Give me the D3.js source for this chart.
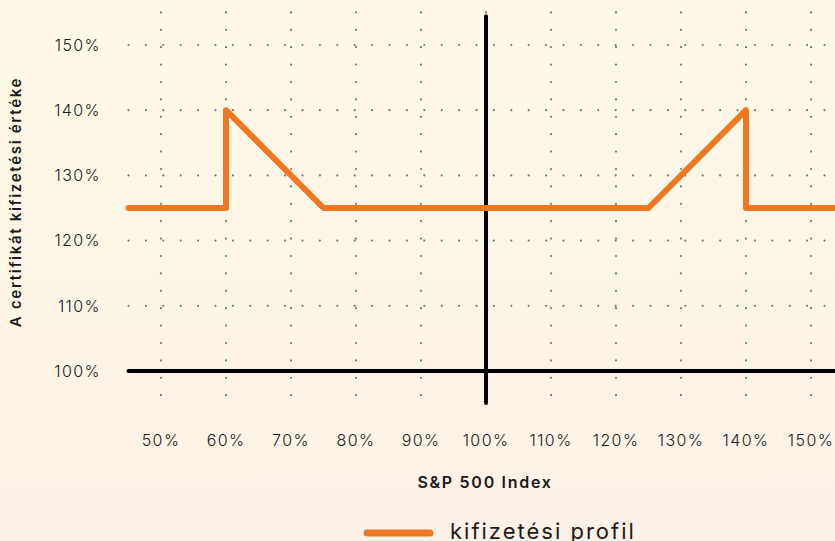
<!DOCTYPE html>
<html>
<head>
<meta charset="utf-8">
<script src="https://cdn.jsdelivr.net/npm/d3@7"></script>
<style>
  html, body { margin: 0; padding: 0; overflow: hidden; }
  body { width: 835px; height: 541px; }
  text { font-family: "Inter", "DejaVu Sans", sans-serif; fill: #1a1a1a; }
</style>
</head>
<body>
<script>
// chart data
var xTicks = [50, 60, 70, 80, 90, 100, 110, 120, 130, 140, 150];
var yTicks = [100, 110, 120, 130, 140, 150];
var payoffX = [45, 60, 60, 75, 125, 140, 140, 155];
var payoffY = [125, 125, 140, 125, 125, 140, 125, 125];
var seriesName = "kifizetési profil";
var xTitle = "S&P 500 Index";
var yTitle = "A certifikát kifizetési értéke";

var width = 835, height = 541;

var svg = d3.select("body").append("svg")
  .attr("width", width)
  .attr("height", height);

// background gradient
var grad = svg.append("defs").append("linearGradient")
  .attr("id", "bg").attr("x1", 0).attr("y1", 0).attr("x2", 0).attr("y2", 1);
grad.append("stop").attr("offset", "0%").attr("stop-color", "#fef9e7");
grad.append("stop").attr("offset", "100%").attr("stop-color", "#fcf1e6");
svg.append("rect").attr("width", width).attr("height", height).attr("fill", "url(#bg)");

var x = d3.scaleLinear().domain([45, 155]).range([128.5, 843.5]);
var y = d3.scaleLinear().domain([95, 155]).range([403.6, 12.4]);

// dotted grid
var grid = svg.append("g")
  .attr("stroke", "#777")
  .attr("stroke-width", 2.2)
  .attr("stroke-linecap", "round")
  .attr("stroke-dasharray", "0 17.4");

grid.selectAll(".vgrid")
  .data(xTicks)
  .enter().append("line")
  .attr("class", "vgrid")
  .attr("x1", d => x(d)).attr("x2", d => x(d))
  .attr("y1", y(155)).attr("y2", y(95));

grid.selectAll(".hgrid")
  .data(yTicks.filter(d => d !== 100))
  .enter().append("line")
  .attr("class", "hgrid")
  .attr("x1", x(45)).attr("x2", x(155))
  .attr("y1", d => y(d)).attr("y2", d => y(d));

// axes lines
svg.append("line")
  .attr("x1", x(45)).attr("x2", x(155))
  .attr("y1", y(100)).attr("y2", y(100))
  .attr("stroke", "#000").attr("stroke-width", 4).attr("stroke-linecap", "round");

svg.append("line")
  .attr("x1", x(100)).attr("x2", x(100))
  .attr("y1", y(154.4)).attr("y2", y(95.1))
  .attr("stroke", "#000").attr("stroke-width", 4).attr("stroke-linecap", "round");

// payoff line
var line = d3.line()
  .x(d => x(d[0]))
  .y(d => y(d[1]));

svg.append("path")
  .datum(payoffX.map((v, i) => [v, payoffY[i]]))
  .attr("d", line)
  .attr("fill", "none")
  .attr("stroke", "#f07722")
  .attr("stroke-width", 6)
  .attr("stroke-linejoin", "round")
  .attr("stroke-linecap", "round");

// tick labels
svg.selectAll(".ylab")
  .data(yTicks)
  .enter().append("text")
  .attr("class", "ylab")
  .attr("x", 101)
  .attr("y", d => y(d))
  .attr("dy", "0.36em")
  .attr("text-anchor", "end")
  .style("font-size", "16px")
  .style("font-weight", 300)
  .style("letter-spacing", "1.4px")
  .text(d => d + "%");

svg.selectAll(".xlab")
  .data(xTicks)
  .enter().append("text")
  .attr("class", "xlab")
  .attr("x", d => x(d))
  .attr("y", 440)
  .attr("dy", "0.36em")
  .attr("text-anchor", "middle")
  .style("font-size", "16px")
  .style("font-weight", 300)
  .style("letter-spacing", "1.4px")
  .text(d => d + "%");

// axis titles
svg.append("text")
  .attr("x", 485)
  .attr("y", 482)
  .attr("dy", "0.36em")
  .attr("text-anchor", "middle")
  .style("font-size", "16px")
  .style("font-weight", 600)
  .style("letter-spacing", "1.7px")
  .text(xTitle);

svg.append("text")
  .attr("transform", "translate(16,202) rotate(-90)")
  .attr("dy", "0.36em")
  .attr("text-anchor", "middle")
  .style("font-size", "15px")
  .style("font-weight", 600)
  .style("letter-spacing", "1.7px")
  .text(yTitle);

// legend
svg.append("line")
  .attr("x1", 367).attr("x2", 430)
  .attr("y1", 533).attr("y2", 533)
  .attr("stroke", "#f07722").attr("stroke-width", 7).attr("stroke-linecap", "round");

svg.append("text")
  .attr("x", 450)
  .attr("y", 539)
  .style("font-size", "22px")
  .style("letter-spacing", "2px")
  .text(seriesName);
</script>
</body>
</html>
